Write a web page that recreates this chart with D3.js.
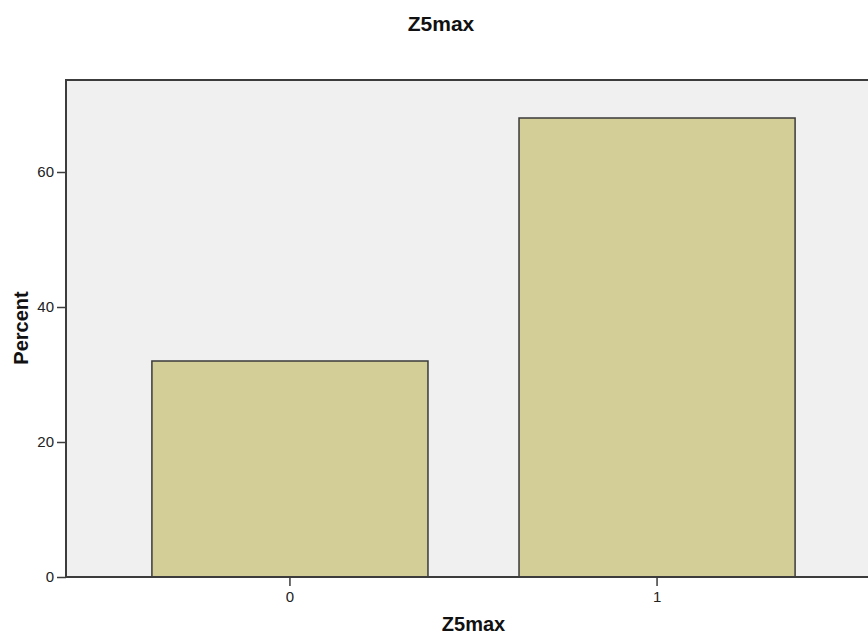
<!DOCTYPE html>
<html><head><meta charset="utf-8">
<script src="https://cdn.jsdelivr.net/npm/d3@7"></script>
<style>body{margin:0;background:#fff}svg{display:block}text{font-family:"Liberation Sans",Arial,sans-serif}</style>
</head><body>
<svg id="c" width="868" height="635"></svg>
<script>
const categories = ["0", "1"];
const percentValues = [32, 68];
const yTicks = [0, 20, 40, 60];
const titleText = "Z5max";
const xLabel = "Z5max";
const yLabel = "Percent";

const svg = d3.select("#c");
const L = 66, R = 881, T = 80, B = 577;

const x = d3.scaleBand().domain(categories).range([L, R]).paddingInner(0.248).paddingOuter(0.234);
const y = d3.scaleLinear().domain([0, 73.63]).range([B, T]);

svg.append("rect").attr("x", L).attr("y", T).attr("width", R - L).attr("height", B - T)
  .attr("fill", "#f0f0f0").attr("stroke", "none");

svg.selectAll("rect.bar").data(categories).enter().append("rect").attr("class", "bar")
  .attr("x", d => x(d)).attr("width", x.bandwidth())
  .attr("y", (d, i) => y(percentValues[i])).attr("height", (d, i) => B - y(percentValues[i]))
  .attr("fill", "#d3ce97").attr("stroke", "#3a3a3a").attr("stroke-width", 1.5);

// frame
svg.append("rect").attr("x", L).attr("y", T).attr("width", R - L).attr("height", B - T)
  .attr("fill", "none").attr("stroke", "#3c3c3c").attr("stroke-width", 2);

const yAxis = d3.axisLeft(y).tickValues(yTicks).tickSize(9).tickPadding(3).tickFormat(d3.format("d"));
const gy = svg.append("g").attr("transform", `translate(${L},0)`).call(yAxis);
gy.select(".domain").remove();
gy.selectAll("line").attr("stroke", "#3c3c3c").attr("stroke-width", 1.5);
gy.selectAll("text").attr("font-size", 15).attr("fill", "#222");

const xAxis = d3.axisBottom(x).tickSize(9).tickPadding(5);
const gx = svg.append("g").attr("transform", `translate(0,${B})`).call(xAxis);
gx.select(".domain").remove();
gx.selectAll("line").attr("stroke", "#3c3c3c").attr("stroke-width", 1.5);
gx.selectAll("text").attr("font-size", 15).attr("fill", "#222");

svg.append("text").attr("x", 441).attr("y", 30.5).attr("text-anchor", "middle")
  .attr("font-size", 21).attr("font-weight", "bold").attr("fill", "#111").text(titleText);
svg.append("text").attr("x", (L + R) / 2).attr("y", 631).attr("text-anchor", "middle")
  .attr("font-size", 20).attr("font-weight", "bold").attr("fill", "#111").text(xLabel);
svg.append("text").attr("transform", "translate(28,328) rotate(-90)").attr("text-anchor", "middle")
  .attr("font-size", 20).attr("font-weight", "bold").attr("fill", "#111").text(yLabel);
</script>
</body></html>
